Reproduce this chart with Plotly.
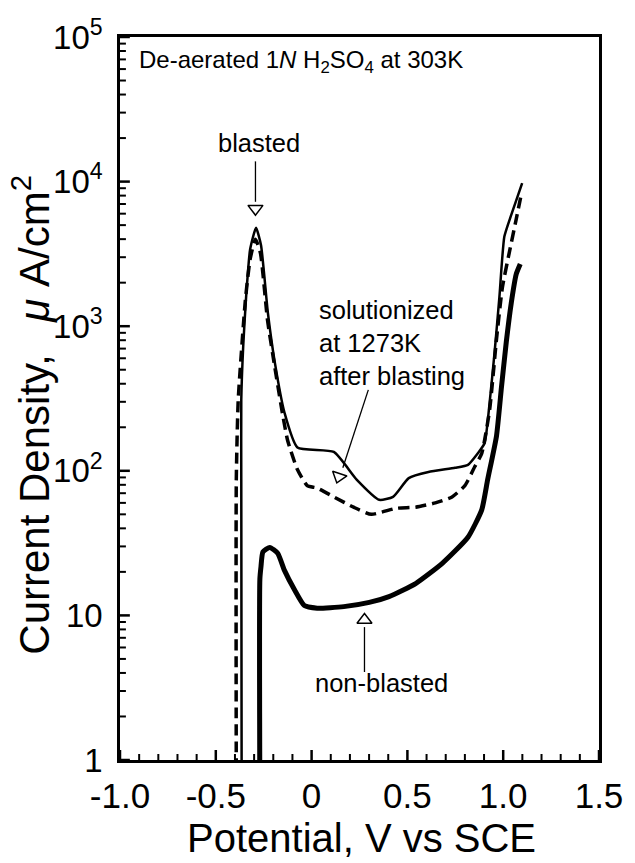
import math
import plotly.graph_objects as go

# ---- data (V vs SCE, current density in uA/cm2) ----
blasted_v = [-0.365, -0.367, -0.367, -0.357, -0.342, -0.321, -0.290, -0.264, -0.228, -0.192, -0.141,
             -0.074, 0.116, 0.235, 0.353, 0.425, 0.507, 0.610, 0.749, 0.816, 0.867, 0.903,
             0.929, 0.955, 0.980, 1.006, 1.042, 1.099]
blasted_i = [0.5, 87, 309, 724, 1580, 3390, 4790, 3630, 1230, 562, 251,
             145, 135, 87, 63, 66, 89, 98, 105, 110, 132, 155,
             295, 660, 1580, 4170, 5890, 9770]

solution_v = [-0.393, -0.393, -0.383, -0.346, -0.321, -0.293, -0.267, -0.230, -0.192, -0.150, -0.125,
              -0.074, -0.023, 0.029, 0.116, 0.219, 0.312, 0.440, 0.543, 0.646, 0.733, 0.800,
              0.852, 0.888, 0.929, 0.965, 0.996, 1.032, 1.068, 1.094]
solution_i = [0.5, 87, 309, 1500, 2900, 4000, 3200, 1100, 520, 240, 162,
              102, 79, 76, 66, 56, 50, 55, 56, 60, 66, 79,
              107, 132, 263, 813, 1860, 3240, 5500, 8130]

nonblasted_v = [-0.270, -0.270, -0.264, -0.254, -0.218, -0.177, -0.141, -0.090, -0.038, 0.029, 0.168,
                0.301, 0.404, 0.543, 0.682, 0.816, 0.888, 0.919, 0.965, 0.991, 1.016, 1.042,
                1.068, 1.089]
nonblasted_i = [0.5, 17.8, 21.9, 27.5, 29.5, 26.9, 20.4, 15.1, 11.7, 11.2, 11.5,
                12.3, 13.5, 16.6, 22.9, 34.7, 53.7, 87, 174, 380, 776, 1445,
                2290, 2690]

# arrow pointers (line start, line end, head position)
arrow_blasted_v = [-0.293, -0.293]
arrow_blasted_i = [13800, 7250]
head_blasted = (-0.293, 6500)

arrow_sol_v = [0.296, 0.163]
arrow_sol_i = [363, 105]
head_sol = (0.142, 91)

arrow_non_v = [0.276, 0.276]
arrow_non_i = [4.06, 8.3]
head_non = (0.276, 9.3)

x_ticks = [-1.0, -0.5, 0, 0.5, 1.0, 1.5]
x_ticktext = ["-1.0", "-0.5", "0", "0.5", "1.0", "1.5"]
y_ticks = [1, 10, 100, 1000, 10000, 100000]
y_ticktext = ["1", "10", "10<sup>2</sup>", "10<sup>3</sup>", "10<sup>4</sup>", "10<sup>5</sup>"]

X_RANGE = [-1.0, 1.5]
Y_RANGE_LOG = [0, 5]
minor_y = [m * 10 ** d for d in range(0, 5) for m in range(2, 10)]
minor_x = [round(-1.0 + 0.1 * k, 2) for k in range(26) if k % 5 != 0]

FONT = "Liberation Sans, Arial, sans-serif"
MARGIN = dict(l=120, r=29, t=37, b=103)
W, H = 635, 863
plot_w = W - MARGIN["l"] - MARGIN["r"]
plot_h = H - MARGIN["t"] - MARGIN["b"]

fig = go.Figure()
fig.add_trace(go.Scatter(x=solution_v, y=solution_i, mode="lines",
                         line=dict(color="black", width=3.5, dash="11px,6px", shape="spline", smoothing=0.5)))
fig.add_trace(go.Scatter(x=blasted_v, y=blasted_i, mode="lines",
                         line=dict(color="black", width=2.5, shape="spline", smoothing=0.5)))
fig.add_trace(go.Scatter(x=nonblasted_v, y=nonblasted_i, mode="lines",
                         line=dict(color="black", width=5, shape="spline", smoothing=0.5)))

for xs, ys in [(arrow_blasted_v, arrow_blasted_i), (arrow_sol_v, arrow_sol_i), (arrow_non_v, arrow_non_i)]:
    fig.add_trace(go.Scatter(x=xs, y=ys, mode="lines", line=dict(color="black", width=1.3)))

fig.add_trace(go.Scatter(x=[head_blasted[0]], y=[head_blasted[1]], mode="markers",
                         marker=dict(symbol="triangle-down", size=13, color="white",
                                     line=dict(color="black", width=1.5))))
fig.add_trace(go.Scatter(x=[head_sol[0]], y=[head_sol[1]], mode="markers",
                         marker=dict(symbol="triangle-down", size=13, color="white", angle=18,
                                     line=dict(color="black", width=1.5))))
fig.add_trace(go.Scatter(x=[head_non[0]], y=[head_non[1]], mode="markers",
                         marker=dict(symbol="triangle-up", size=13, color="white",
                                     line=dict(color="black", width=1.5))))

fig.update_layout(
    width=W, height=H,
    margin=MARGIN,
    plot_bgcolor="white", paper_bgcolor="white",
    showlegend=False,
    font=dict(family=FONT, color="black"),
    xaxis=dict(range=X_RANGE, tickmode="array", tickvals=x_ticks, ticktext=x_ticktext,
               ticks="", showline=True, linewidth=2.5, linecolor="black", mirror=True,
               showgrid=False, zeroline=False, tickfont=dict(size=35, family=FONT),
               ticklabelstandoff=3),
    yaxis=dict(type="log", range=Y_RANGE_LOG, tickmode="array", tickvals=y_ticks, ticktext=y_ticktext,
               ticks="", showline=True, linewidth=2.5, linecolor="black", mirror=True,
               showgrid=False, zeroline=False, tickfont=dict(size=33, family=FONT),
               ticklabelstandoff=8),
)

# inward tick marks drawn as paper-referenced shapes
def xp(v):
    return (v - X_RANGE[0]) / (X_RANGE[1] - X_RANGE[0])

def yp(v):
    return (math.log10(v) - Y_RANGE_LOG[0]) / (Y_RANGE_LOG[1] - Y_RANGE_LOG[0])

for vals, length, width in [(x_ticks, 10, 2.5), (minor_x, 6, 2)]:
    for v in vals:
        fig.add_shape(type="line", xref="paper", yref="paper", x0=xp(v), x1=xp(v),
                      y0=0, y1=length / plot_h, line=dict(color="black", width=width))
for vals, length, width in [(y_ticks, 10, 2.5), (minor_y, 6, 2)]:
    for v in vals:
        fig.add_shape(type="line", xref="paper", yref="paper", x0=0, x1=length / plot_w,
                      y0=yp(v), y1=yp(v), line=dict(color="black", width=width))

annotations = [
    dict(text="De-aerated 1<i>N</i> H<sub>2</sub>SO<sub>4</sub> at 303K", x=0.035, y=0.966,
         xanchor="left", yanchor="middle", font=dict(size=24)),
    dict(text="blasted", x=0.290, y=0.854, xanchor="center", yanchor="middle", font=dict(size=25.5)),
    dict(text="solutionized<br>at 1273K<br>after blasting", x=0.4115, y=0.577,
         xanchor="left", yanchor="middle", align="left", font=dict(size=25.5)),
    dict(text="non-blasted", x=0.545, y=0.1066, xanchor="center", yanchor="middle", font=dict(size=25.5)),
    dict(text="Potential, V vs SCE", x=0.504, y=-0.108, xanchor="center", yanchor="middle",
         font=dict(size=40)),
    dict(text="Current Density,\u2002 <i>\u03bc</i> A/cm<sup>2</sup>", x=-0.186, y=0.4775, textangle=-90,
         xanchor="center", yanchor="middle", font=dict(size=42)),
]
for a in annotations:
    a.update(xref="paper", yref="paper", showarrow=False)
    fig.add_annotation(**a)

fig.write_html("out.html")
